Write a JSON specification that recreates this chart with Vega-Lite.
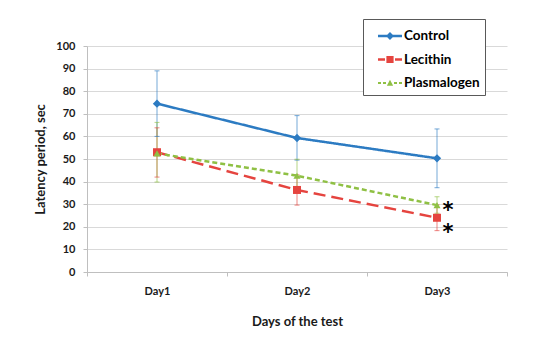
{
  "$schema": "https://vega.github.io/schema/vega-lite/v6.json",
  "width": 420,
  "height": 226,
  "autosize": {"type": "none"},
  "padding": {"left": 87, "top": 46, "right": 43, "bottom": 88},
  "background": "white",
  "config": {
    "font": "Lato",
    "view": {"stroke": null},
    "axis": {"labelFont": "Lato", "titleFont": "Lato", "labelFontWeight": "bold", "titleFontWeight": "bold", "labelColor": "#1a1a1a", "titleColor": "#1a1a1a"}
  },
  "data": {
    "values": [
      {"day": "Day1", "group": "Control", "value": 74.5, "lower": 60.0, "upper": 89.0},
      {"day": "Day2", "group": "Control", "value": 59.3, "lower": 49.5, "upper": 69.2},
      {"day": "Day3", "group": "Control", "value": 50.3, "lower": 37.3, "upper": 63.3},
      {"day": "Day1", "group": "Lecithin", "value": 53.0, "lower": 42.0, "upper": 63.8},
      {"day": "Day2", "group": "Lecithin", "value": 36.3, "lower": 29.6, "upper": 43.0},
      {"day": "Day3", "group": "Lecithin", "value": 24.0, "lower": 18.3, "upper": 29.7},
      {"day": "Day1", "group": "Plasmalogen", "value": 52.5, "lower": 39.8, "upper": 66.2},
      {"day": "Day2", "group": "Plasmalogen", "value": 42.6, "lower": 35.3, "upper": 49.9},
      {"day": "Day3", "group": "Plasmalogen", "value": 29.6, "lower": 26.0, "upper": 33.3}
    ]
  },
  "encoding": {
    "x": {
      "field": "day", "type": "nominal",
      "scale": {"type": "band", "paddingInner": 0, "paddingOuter": 0},
      "axis": {
        "title": "Days of the test", "labelAngle": 0, "labelFontSize": 11, "titleFontSize": 13,
        "tickBand": "extent", "tickSize": 4, "tickColor": "#BFBFBF", "domainColor": "#BFBFBF",
        "labelPadding": 9, "titlePadding": 19, "grid": false
      }
    },
    "y": {
      "field": "value", "type": "quantitative",
      "scale": {"domain": [0, 100], "nice": false},
      "axis": {
        "title": "Latency period, sec", "tickCount": 10, "labelFontSize": 11, "titleFontSize": 13,
        "tickSize": 4, "tickColor": "#BFBFBF", "domainColor": "#BFBFBF", "gridColor": "#D9D9D9",
        "labelPadding": 8, "titlePadding": 8
      }
    },
    "color": {
      "field": "group", "type": "nominal",
      "scale": {"domain": ["Control", "Lecithin", "Plasmalogen"], "range": ["#2C7BC2", "#E5443F", "#8FC044"]},
      "legend": {
        "title": null, "orient": "none", "legendX": 276, "legendY": -27,
        "strokeColor": "#595959", "fillColor": "white", "padding": 5,
        "symbolSize": 576, "rowPadding": 4.5, "labelOffset": 12, "symbolStrokeWidth": 0, "symbolOpacity": 1,
        "labelFontSize": 13.5, "labelFontWeight": "bold", "labelColor": "#000000", "labelFont": "Lato",
        "labelExpr": "datum.label + '\u2003\u2003'"
      }
    }
  },
  "layer": [
    {
      "transform": [{"filter": "false"}],
      "mark": {"type": "point", "filled": true, "opacity": 1},
      "encoding": {
        "shape": {
          "field": "group", "type": "nominal",
          "scale": {
            "domain": ["Control", "Lecithin", "Plasmalogen"],
            "range": [
              "M-0.167,-0.1H1.833V0.1H-0.167Z M0.833,-0.333L1.167,0L0.833,0.333L0.5,0Z",
              "M-0.167,-0.1H0.417V0.1H-0.167Z M1.25,-0.1H1.833V0.1H1.25Z M0.533,-0.3H1.133V0.3H0.533Z",
              "M-0.167,-0.09H0.083V0.09H-0.167Z M0.25,-0.09H0.5V0.09H0.25Z M1.167,-0.09H1.417V0.09H1.167Z M1.583,-0.09H1.833V0.09H1.583Z M0.833,-0.28L1.097,0.22L0.57,0.22Z"
            ]
          }
        }
      }
    },
    {
      "mark": {"type": "rule", "strokeWidth": 1, "opacity": 0.65},
      "encoding": {"y": {"field": "lower", "type": "quantitative"}, "y2": {"field": "upper"}}
    },
    {
      "mark": {"type": "tick", "size": 5, "thickness": 1, "opacity": 0.65},
      "encoding": {"y": {"field": "lower", "type": "quantitative"}}
    },
    {
      "mark": {"type": "tick", "size": 5, "thickness": 1, "opacity": 0.65},
      "encoding": {"y": {"field": "upper", "type": "quantitative"}}
    },
    {
      "mark": {"type": "line", "strokeWidth": 2.5},
      "encoding": {
        "strokeDash": {
          "field": "group", "type": "nominal",
          "scale": {"domain": ["Control", "Lecithin", "Plasmalogen"], "range": [[1, 0], [12, 6], [5, 3]]},
          "legend": null
        }
      }
    },
    {
      "transform": [{"filter": "datum.group === 'Control'"}],
      "mark": {"type": "point", "filled": true, "opacity": 1, "shape": "diamond", "size": 70}
    },
    {
      "transform": [{"filter": "datum.group === 'Lecithin'"}],
      "mark": {"type": "point", "filled": true, "opacity": 1, "shape": "square", "size": 64}
    },
    {
      "transform": [{"filter": "datum.group === 'Plasmalogen'"}],
      "mark": {"type": "point", "filled": true, "opacity": 1, "shape": "triangle-up", "size": 50}
    },
    {
      "transform": [{"filter": "datum.day === 'Day3' && datum.group === 'Plasmalogen'"}],
      "mark": {"type": "text", "text": "*", "fontSize": 21, "fontWeight": "bold", "font": "DejaVu Sans", "align": "center", "baseline": "alphabetic", "dx": 11, "dy": 12},
      "encoding": {"color": {"value": "black"}}
    },
    {
      "transform": [{"filter": "datum.day === 'Day3' && datum.group === 'Lecithin'"}],
      "mark": {"type": "text", "text": "*", "fontSize": 21, "fontWeight": "bold", "font": "DejaVu Sans", "align": "center", "baseline": "alphabetic", "dx": 11, "dy": 21},
      "encoding": {"color": {"value": "black"}}
    }
  ]
}
